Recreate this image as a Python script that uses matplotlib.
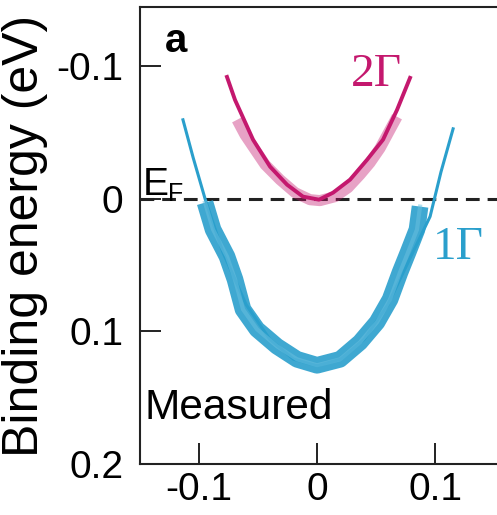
import numpy as np
import matplotlib
matplotlib.use('Agg')
import matplotlib.pyplot as plt

plt.rcParams['font.family'] = ['Liberation Sans', 'DejaVu Sans']

# measured band 1 (1Gamma): momentum (1/A), binding energy (eV)
k1_data = [-0.0949, -0.0881, -0.0763, -0.0695, -0.0627, -0.0508, -0.0339, -0.0169, 0.0,
           0.0195, 0.0364, 0.0508, 0.0619, 0.0703, 0.0771, 0.0847, 0.0873]
e1_data = [0.003, 0.0233, 0.0436, 0.0609, 0.0835, 0.0985, 0.1113, 0.1211, 0.1256,
           0.1211, 0.1083, 0.0932, 0.0759, 0.0556, 0.0406, 0.0233, 0.006]

# fit band 1
k1_fit = [-0.1136, -0.105, -0.0949, -0.08, -0.06, -0.04, -0.02, 0.0,
          0.02, 0.04, 0.06, 0.075, 0.0958, 0.105, 0.1153]
e1_fit = [-0.0594, -0.031, 0.0, 0.040, 0.080, 0.106, 0.121, 0.126,
          0.121, 0.106, 0.080, 0.052, 0.0135, -0.020, -0.0526]

# measured band 2 (2Gamma)
k2_data = [-0.0678, -0.061, -0.0525, -0.044, -0.0314, -0.0186, -0.006, 0.0025,
           0.0153, 0.0263, 0.0364, 0.0449, 0.0534, 0.0619, 0.0678]
e2_data = [-0.0594, -0.048, -0.0368, -0.0256, -0.0143, -0.0045, 0.0008, 0.0015,
           -0.0015, -0.0083, -0.018, -0.027, -0.038, -0.052, -0.0617]

# fit band 2
k2_fit = [-0.0763, -0.0695, -0.0542, -0.0398, -0.0254, -0.0119, 0.0017,
          0.0136, 0.028, 0.0424, 0.0559, 0.0678, 0.0788]
e2_fit = [-0.0917, -0.0744, -0.0444, -0.0241, -0.0105, -0.0015, 0.0008,
          -0.0045, -0.0143, -0.0293, -0.0444, -0.0669, -0.091]

blue = '#2a9fcc'
pink = '#c4186e'

fig = plt.figure(figsize=(4.97, 5.15), dpi=100)
ax = fig.add_axes([0.2817, 0.099, 0.7183, 0.8874])

ax.axhline(0, color='#222222', lw=2.2, ls=(0, (4.5, 2.6)), zorder=1)

ax.plot(k1_fit, e1_fit, color=blue, lw=2.2, zorder=2)
ax.plot(k1_data, e1_data, color=blue, lw=12, alpha=0.9, solid_joinstyle='round',
        solid_capstyle='butt', zorder=3)
ax.plot(k1_data, e1_data, color='#6cc0e0', lw=3, alpha=0.5, solid_joinstyle='round', zorder=4)

ax.plot(k2_data, e2_data, color=pink, lw=8, alpha=0.4, solid_joinstyle='round',
        solid_capstyle='butt', zorder=3)
ax.plot(k2_fit, e2_fit, color=pink, lw=2.8, zorder=5)

ax.set_xlim(-0.15, 0.1525)
ax.set_ylim(0.2, -0.1444)
ax.set_xticks([-0.1, 0, 0.1])
ax.set_xticklabels(['-0.1', '0', '0.1'])
ax.set_yticks([-0.1, 0, 0.1, 0.2])
ax.set_yticklabels(['-0.1', '0', '0.1', '0.2'])
ax.tick_params(direction='in', length=15, width=1.4, labelsize=28, color='#222222')
ax.tick_params(axis='y', pad=12)
ax.tick_params(axis='x', pad=6)
for s in ['left', 'top', 'bottom']:
    ax.spines[s].set_linewidth(1.5)
    ax.spines[s].set_color('#222222')
ax.spines['right'].set_visible(False)

ax.set_ylabel('Binding energy (eV)', fontsize=36, labelpad=6)

ax.text(0.07, 0.9015, 'a', transform=ax.transAxes, fontsize=29, fontweight='bold',
        va='baseline', ha='left')
ax.text(-0.148, -0.003, 'E', fontsize=28, va='baseline', ha='left')
ax.text(-0.1262, 0.0015, 'F', fontsize=18, va='baseline', ha='left')
ax.text(-0.146, 0.158, 'Measured', fontsize=30.5, va='center', ha='left')
ax.text(0.029, -0.093, '2Γ', fontsize=34, family='Liberation Serif', color=pink,
        va='center', ha='left')
ax.text(0.098, 0.037, '1Γ', fontsize=34, family='Liberation Serif', color=blue,
        va='center', ha='left')

fig.savefig('out.png', dpi=100)
